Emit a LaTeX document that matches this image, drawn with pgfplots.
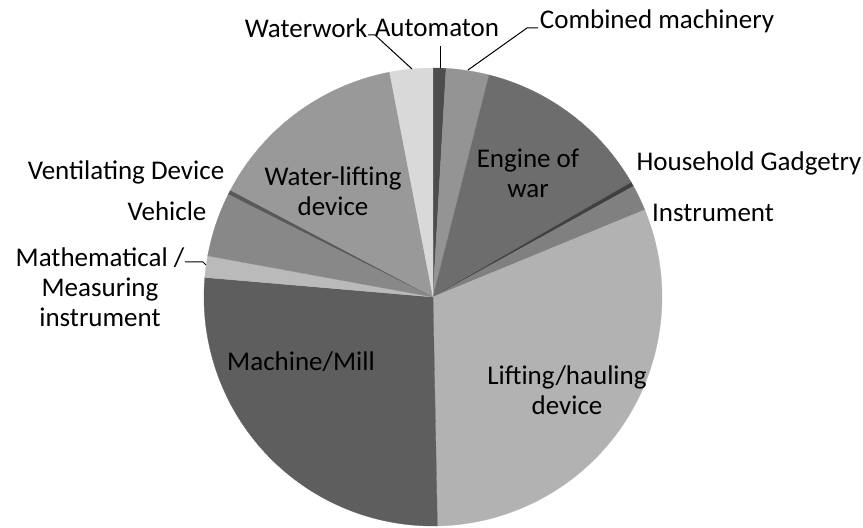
\documentclass[border=0pt]{standalone}
\usepackage{pgfplots}
\pgfplotsset{compat=1.18}
\usepackage{pgfplotstable}
\usepackage{fontspec}
\setmainfont{Carlito}

% slices clockwise from 12 o'clock; value = count, gray = fill level 0-255
\pgfplotstableread{
key value gray
Automaton 3 77
Combined 10 148
Engine 42 109
Household 1 64
Instrument 6 128
Lifting 102 178
Machine 88 94
Math 5 186
Vehicle 15 136
Ventilating 1 89
WaterLifting 47 153
Waterwork 10 217
}\data

\begin{document}
\begin{tikzpicture}
\begin{axis}[
  hide axis, scale only axis, clip=false,
  x=1pt, y=1pt,
  xmin=-433, xmax=430, ymin=-230, ymax=297,
]
% keep the full canvas as bounding box
\path (axis cs:-433,-230) rectangle (axis cs:430,297);
\def\cum{0}
\pgfplotsforeachungrouped \i in {0,...,11}{
  \pgfplotstablegetelem{\i}{value}\of\data \let\v\pgfplotsretval
  \pgfplotstablegetelem{\i}{gray}\of\data \let\g\pgfplotsretval
  \pgfmathsetmacro\a{90-(360/330)*\cum}
  \pgfmathsetmacro\cum{\cum+\v}
  \pgfmathsetmacro\b{90-(360/330)*\cum}
  \pgfmathsetmacro\xa{229*cos(\a)}
  \pgfmathsetmacro\ya{229*sin(\a)}
  \edef\temp{\noexpand\filldraw[fill={rgb,255:red,\g;green,\g;blue,\g}, draw={rgb,255:red,\g;green,\g;blue,\g}, line width=0.3pt]
    (axis cs:0,0) -- (axis cs:\xa,\ya) arc[start angle=\a, end angle=\b, radius=229pt] -- cycle;}
  \temp
}

% leader lines
\draw[line width=1pt] (axis cs:-65,262) -- (axis cs:-58,262) -- (axis cs:-21,228);
\draw[line width=1pt] (axis cs:7,251) -- (axis cs:7,229);
\draw[line width=1pt] (axis cs:35,227) -- (axis cs:94,269) -- (axis cs:105,269);
\draw[line width=1pt] (axis cs:-248,35) -- (axis cs:-230,35) -- (axis cs:-227,32);

% labels
\begin{scope}[every node/.style={font=\fontsize{27}{30}\selectfont, align=center, inner sep=0pt}]
\node at (axis cs:-127,269) {Waterwork};
\node at (axis cs:4,269) {Automaton};
\node at (axis cs:224,276) {Combined machinery};
\node at (axis cs:95,124) {Engine of\\war};
\node at (axis cs:316,134) {Household Gadgetry};
\node at (axis cs:280,84) {Instrument};
\node at (axis cs:134,-93) {Lifting/hauling\\device};
\node at (axis cs:-132,-65) {Machine/Mill};
\node at (axis cs:-333,10) {Mathematical /\\Measuring\\instrument};
\node at (axis cs:-266,86) {Vehicle};
\node at (axis cs:-307,125) {Ventilating Device};
\node at (axis cs:-100,106) {Water-lifting\\device};
\end{scope}
\end{axis}
\end{tikzpicture}
\end{document}
